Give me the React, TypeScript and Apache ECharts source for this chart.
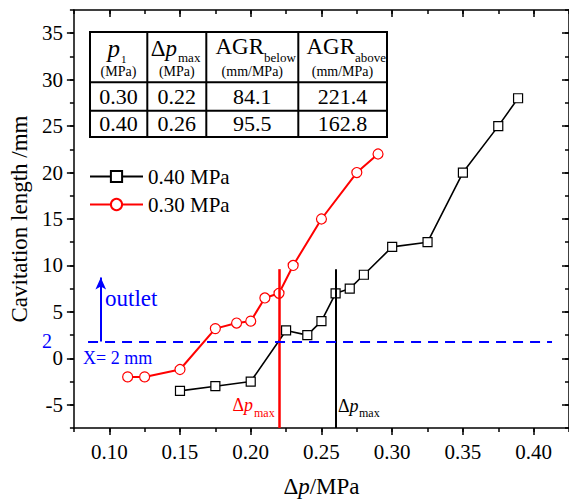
import React, { useEffect, useRef } from "react";
import * as echarts from "echarts";

const FONT = "'Liberation Serif', 'Times New Roman', serif";

// 0.40 MPa series: [Δp (MPa), cavitation length (mm)]
const dp040: number[] = [0.15, 0.175, 0.2, 0.225, 0.24, 0.25, 0.26, 0.27, 0.28, 0.3, 0.325, 0.35, 0.375, 0.389];
const len040: number[] = [-3.5, -3.0, -2.5, 3.0, 2.5, 4.0, 7.0, 7.5, 9.0, 12.0, 12.5, 20.0, 25.0, 28.0];

// 0.30 MPa series
const dp030: number[] = [0.113, 0.125, 0.15, 0.175, 0.19, 0.2, 0.21, 0.22, 0.23, 0.25, 0.275, 0.29];
const len030: number[] = [-2.0, -2.0, -1.2, 3.2, 3.8, 4.0, 6.5, 7.0, 10.0, 15.0, 20.0, 22.0];

const seriesNames = ["0.40 MPa", "0.30 MPa"];

// Axis tick labels (major ticks)
const xTicks: number[] = [0.1, 0.15, 0.2, 0.25, 0.3, 0.35, 0.4];
const yTicks: number[] = [-5, 0, 5, 10, 15, 20, 25, 30, 35];

// Δp_max markers
const dpMax030 = 0.22;
const dpMax040 = 0.26;
const markerTop = 9.6;

// Outlet line (X = 2 mm)
const outletY = 1.8;
const outletXStart = 0.085;
const outletXEnd = 0.413;
const arrowX = 0.094;
const arrowTop = 8.7;

// Table
const tableRows: string[][] = [
  ["0.30", "0.22", "84.1", "221.4"],
  ["0.40", "0.26", "95.5", "162.8"],
];

const xMin = 0.075, xMax = 0.425, xStep = 0.025;
const yMin = -7.5, yMax = 37.5, yStep = 2.5;

function txt(x: number, y: number, text: string, size: number, extra: any = {}) {
  const align = extra.align || "center";
  return {
    type: "text",
    x,
    y,
    silent: true,
    style: {
      text,
      fontSize: size,
      fontFamily: FONT,
      fill: "#000",
      verticalAlign: "middle",
      textVerticalAlign: "middle",
      ...extra,
      align,
      textAlign: align,
    },
  };
}

export default function App() {
  const ref = useRef<HTMLDivElement>(null);
  useEffect(() => {
    if (!ref.current) return;
    const chart = echarts.init(ref.current, undefined, { renderer: "svg" });

    const black = dp040.map((x, i) => [x, len040[i]]);
    const red = dp030.map((x, i) => [x, len030[i]]);

    const colX = [118.5, 176.8, 252.3, 342.5];
    const rowY = [96.5, 123.7];
    const tL = 90, tR = 387, tT = 32, tB = 137;
    const vLines = [147.3, 206.3, 298.3];
    const hLines = [82.3, 110.7];
    const italicRich = (size: number, fill = "#000") => ({
      i: { fontSize: size, fontStyle: "italic", fontFamily: FONT, fill, color: fill },
    });

    const tableEls: any[] = [
      { type: "rect", shape: { x: tL, y: tT, width: tR - tL, height: tB - tT }, style: { fill: "#fff", stroke: "#000", lineWidth: 2 } },
      ...vLines.map((x) => ({ type: "line", shape: { x1: x, y1: tT, x2: x, y2: tB }, style: { stroke: "#000", lineWidth: 2 } })),
      ...hLines.map((y) => ({ type: "line", shape: { x1: tL, y1: y, x2: tR, y2: y }, style: { stroke: "#000", lineWidth: 2 } })),
      // headers
      txt(120, 48, "p", 25, { fontStyle: "italic", align: "right" }),
      txt(121, 59, "1", 11, { align: "left" }),
      txt(colX[0], 71, "(MPa)", 14),
      txt(177, 48, "Δ{i|p}", 23, { align: "right", rich: italicRich(23) }),
      txt(178, 57, "max", 13, { align: "left" }),
      txt(colX[1], 71, "(MPa)", 14),
      txt(264, 46, "AGR", 23, { align: "right" }),
      txt(264, 57, "below", 13, { align: "left" }),
      txt(colX[2], 71, "(mm/MPa)", 14),
      txt(355, 46, "AGR", 23, { align: "right" }),
      txt(355, 57, "above", 13, { align: "left" }),
      txt(colX[3], 71, "(mm/MPa)", 14),
    ];
    tableRows.forEach((row, r) => {
      row.forEach((cell, c) => {
        tableEls.push(txt(colX[c], rowY[r], cell, 22));
      });
    });

    const annot: any[] = [
      txt(105, 298, "outlet", 23, { fill: "#0000ff", align: "left" }),
      txt(83, 358, "X= 2 mm", 18, { fill: "#0000ff", align: "left" }),
      txt(47, 341, "2", 20, { fill: "#0000ff" }),
      txt(253, 405, "Δ{i|p}", 18, { fill: "#ff0000", align: "right", rich: italicRich(18, "#ff0000") }),
      txt(254, 413, "max", 12, { fill: "#ff0000", align: "left" }),
      txt(338, 406, "Δ{i|p}", 18, { align: "left", rich: italicRich(18) }),
      txt(359, 413, "max", 12, { align: "left" }),
    ];

    const xFmt = (v: number) => {
      const k = v * 20;
      return Math.abs(k - Math.round(k)) < 1e-6 ? v.toFixed(2) : "";
    };
    const yFmt = (v: number) => {
      const k = v / 5;
      return Math.abs(k - Math.round(k)) < 1e-6 ? String(Math.round(v)) : "";
    };
    const lineStyle = { color: "#000", width: 1.5 };
    const axisLine = { show: true, onZero: false, lineStyle };
    const noLine = { show: false, onZero: false };
    const majorTick = (inside: boolean, vals: number[]) => ({
      show: true, inside, length: 7, customValues: vals, lineStyle,
    });
    const minorTickS = (inside: boolean) => ({ show: true, inside, length: 4, lineStyle });

    const xBase = { type: "value", min: xMin, max: xMax, interval: xStep, splitLine: { show: false } };
    const yBase = { type: "value", min: yMin, max: yMax, interval: yStep, splitLine: { show: false } };

    chart.setOption({
      animation: false,
      backgroundColor: "#fff",
      grid: { left: 69, top: 10, right: -1, bottom: 73 },
      legend: {
        data: seriesNames,
        orient: "vertical",
        left: 89,
        top: 166,
        padding: 0,
        itemWidth: 53,
        itemHeight: 14,
        itemGap: 7,
        textStyle: { fontSize: 21, fontFamily: FONT, color: "#000" },
      },
      xAxis: [
        {
          ...xBase,
          position: "bottom",
          axisLine,
          axisTick: majorTick(false, xTicks),
          axisLabel: { customValues: xTicks, formatter: xFmt, fontSize: 21, fontFamily: FONT, color: "#000", margin: 13 },
          name: "Δ{i|p}/MPa",
          nameLocation: "middle",
          nameGap: 47,
          nameTextStyle: {
            fontSize: 23,
            fontFamily: FONT,
            color: "#000",
            rich: { i: { fontSize: 23, fontStyle: "italic", fontFamily: FONT, color: "#000" } },
          },
        },
        {
          ...xBase,
          position: "top",
          axisLine,
          axisTick: majorTick(true, xTicks),
          axisLabel: { show: false },
        },
        { ...xBase, position: "bottom", axisLine: noLine, axisTick: minorTickS(false), axisLabel: { show: false } },
        { ...xBase, position: "top", axisLine: noLine, axisTick: minorTickS(true), axisLabel: { show: false } },
      ],
      yAxis: [
        {
          ...yBase,
          position: "left",
          axisLine,
          axisTick: majorTick(false, yTicks),
          axisLabel: { customValues: yTicks, formatter: yFmt, fontSize: 21, fontFamily: FONT, color: "#000", margin: 11 },
          name: "Cavitation length /mm",
          nameLocation: "middle",
          nameGap: 39,
          nameTextStyle: { fontSize: 23, fontFamily: FONT, color: "#000" },
        },
        {
          ...yBase,
          position: "right",
          axisLine,
          axisTick: majorTick(true, yTicks),
          axisLabel: { show: false },
        },
        { ...yBase, position: "left", axisLine: noLine, axisTick: minorTickS(false), axisLabel: { show: false } },
        { ...yBase, position: "right", axisLine: noLine, axisTick: minorTickS(true), axisLabel: { show: false } },
      ],
      series: [
        {
          name: seriesNames[0],
          type: "line",
          data: black,
          color: "#000",
          symbol: "rect",
          symbolSize: 9,
          itemStyle: { color: "#fff", borderColor: "#000", borderWidth: 1.2 },
          lineStyle: { color: "#000", width: 1.6 },
          z: 3,
          markLine: {
            silent: true,
            symbol: ["none", "none"],
            label: { show: false },
            lineStyle: { color: "#000", width: 2, type: "solid" },
            data: [[{ coord: [dpMax040, yMin] }, { coord: [dpMax040, markerTop] }]],
          },
        },
        {
          name: seriesNames[1],
          type: "line",
          data: red,
          color: "#ff0000",
          symbol: "circle",
          symbolSize: 10,
          itemStyle: { color: "#fff", borderColor: "#ff0000", borderWidth: 1.2 },
          lineStyle: { color: "#ff0000", width: 2 },
          z: 3,
          markLine: {
            silent: true,
            symbol: ["none", "none"],
            label: { show: false },
            lineStyle: { color: "#ff0000", width: 2.5, type: "solid" },
            data: [[{ coord: [dpMax030, yMin] }, { coord: [dpMax030, markerTop] }]],
          },
        },
        {
          name: "outlet",
          type: "line",
          data: [],
          z: 2,
          markLine: {
            silent: true,
            label: { show: false },
            data: [
              [
                { coord: [outletXStart, outletY], symbol: "none", lineStyle: { color: "#0000ff", width: 2, type: [10, 7] } },
                { coord: [outletXEnd, outletY], symbol: "none" },
              ],
              [
                { coord: [arrowX, outletY], symbol: "none", lineStyle: { color: "#0000ff", width: 2, type: "solid" } },
                { coord: [arrowX, arrowTop], symbol: "arrow", symbolSize: [8, 12] },
              ],
            ],
          },
        },
      ],
      graphic: [...tableEls, ...annot],
    });

    return () => chart.dispose();
  }, []);

  return (
    <div
      ref={ref}
      style={{ position: "absolute", left: 0, top: 0, width: 569, height: 503 }}
    />
  );
}
